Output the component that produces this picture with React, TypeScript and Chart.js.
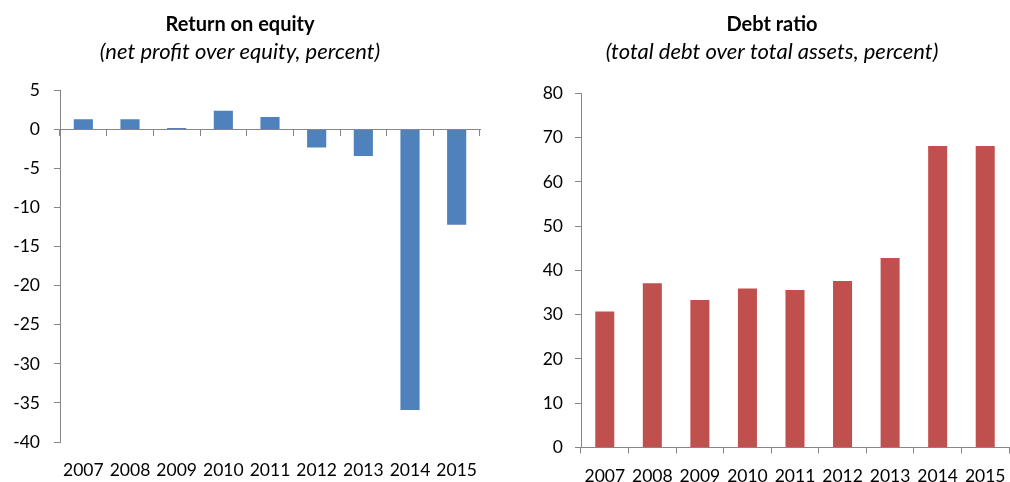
import React, { useEffect, useRef } from 'react';
import { Chart, registerables } from 'chart.js';

Chart.register(...registerables);

const years = ['2007', '2008', '2009', '2010', '2011', '2012', '2013', '2014', '2015'];
const roeValues = [1.3, 1.3, 0.2, 2.4, 1.6, -2.3, -3.4, -35.9, -12.2];
const debtValues = [30.7, 37.1, 33.3, 35.9, 35.6, 37.6, 42.8, 68.1, 68.1];

const roeTitle = 'Return on equity';
const roeSubtitle = '(net profit over equity, percent)';
const debtTitle = 'Debt ratio';
const debtSubtitle = '(total debt over total assets, percent)';

const roeMin = -40;
const roeMax = 5;
const roeStep = 5;
const debtMin = 0;
const debtMax = 80;
const debtStep = 10;

const FONT = 'Lato';
const AXIS = '#868686';
const BLUE = '#4F81BD';
const RED = '#C0504D';

function titleOpts(title: string, subtitle: string, subPadBottom: number) {
  return {
    title: {
      display: true,
      text: title,
      color: '#000',
      font: { family: FONT, size: 20, weight: 'bold' as const, lineHeight: 1.2 },
      padding: { top: 13, bottom: 2 },
    },
    subtitle: {
      display: true,
      text: subtitle,
      color: '#000',
      font: { family: FONT, size: 22, style: 'italic' as const, lineHeight: 1.2 },
      padding: { top: 0, bottom: subPadBottom },
    },
    legend: { display: false },
    tooltip: { enabled: false },
  };
}

function RoeChart() {
  const ref = useRef<HTMLCanvasElement>(null);
  useEffect(() => {
    const chart = new Chart(ref.current!, {
      type: 'bar',
      data: {
        labels: years,
        datasets: [
          {
            data: roeValues,
            backgroundColor: BLUE,
            borderWidth: 0,
            barPercentage: 0.41,
            categoryPercentage: 1,
          },
        ],
      },
      options: {
        responsive: false,
        animation: false,
        layout: { padding: { left: 0, right: 25, top: 0, bottom: 0 } },
        plugins: titleOpts(roeTitle, roeSubtitle, 25) as any,
        scales: {
          x: {
            type: 'category',
            position: 'bottom',
            offset: true,
            grid: { display: false, drawTicks: false },
            border: { display: false },
            ticks: {
              color: '#000',
              font: { family: FONT, size: 17.5 },
              padding: 18,
              maxRotation: 0,
              autoSkip: false,
            },
            afterFit: (s: any) => {
              s.height = 40;
            },
          },
          x2: {
            type: 'category',
            position: { y: 0 } as any,
            offset: true,
            grid: {
              display: true,
              drawOnChartArea: false,
              drawTicks: true,
              tickLength: 6,
              offset: true,
              color: AXIS,
            },
            border: { display: true, color: AXIS, width: 1 },
            ticks: { display: false },
          },
          y: {
            min: roeMin,
            max: roeMax,
            ticks: {
              stepSize: roeStep,
              color: '#000',
              font: { family: FONT, size: 17.5 },
              padding: 14,
            },
            grid: {
              display: true,
              drawOnChartArea: false,
              drawTicks: true,
              tickLength: 6,
              color: AXIS,
            },
            border: { display: true, color: AXIS, width: 1 },
            afterFit: (s: any) => {
              s.width = 60;
            },
          },
        },
      } as any,
    });
    return () => chart.destroy();
  }, []);
  return (
    <canvas
      ref={ref}
      width={505}
      height={482}
      style={{ position: 'absolute', left: 0, top: 0, width: 505, height: 482 }}
    />
  );
}

function DebtChart() {
  const ref = useRef<HTMLCanvasElement>(null);
  useEffect(() => {
    const chart = new Chart(ref.current!, {
      type: 'bar',
      data: {
        labels: years,
        datasets: [
          {
            data: debtValues,
            backgroundColor: RED,
            borderWidth: 0,
            barPercentage: 0.4,
            categoryPercentage: 1,
          },
        ],
      },
      options: {
        responsive: false,
        animation: false,
        layout: { padding: { left: 0, right: 16, top: 0, bottom: 0 } },
        plugins: titleOpts(debtTitle, debtSubtitle, 28) as any,
        scales: {
          x: {
            type: 'category',
            position: 'bottom',
            offset: true,
            grid: {
              display: true,
              drawOnChartArea: false,
              drawTicks: true,
              tickLength: 6,
              offset: true,
              color: AXIS,
            },
            border: { display: true, color: AXIS, width: 1 },
            ticks: {
              color: '#000',
              font: { family: FONT, size: 17.5 },
              padding: 12,
              maxRotation: 0,
              autoSkip: false,
            },
            afterFit: (s: any) => {
              s.height = 34.5;
            },
          },
          y: {
            min: debtMin,
            max: debtMax,
            ticks: {
              stepSize: debtStep,
              color: '#000',
              font: { family: FONT, size: 17.5 },
              padding: 12,
            },
            grid: {
              display: true,
              drawOnChartArea: false,
              drawTicks: true,
              tickLength: 6,
              color: AXIS,
            },
            border: { display: true, color: AXIS, width: 1 },
            afterFit: (s: any) => {
              s.width = 46;
            },
          },
        },
      } as any,
    });
    return () => chart.destroy();
  }, []);
  return (
    <canvas
      ref={ref}
      width={490}
      height={482}
      style={{ position: 'absolute', left: 535, top: 0, width: 490, height: 482 }}
    />
  );
}

export default function App() {
  return (
    <div
      style={{
        position: 'fixed',
        left: 0,
        top: 0,
        width: 1010,
        height: 482,
        overflow: 'hidden',
        background: '#fff',
      }}
    >
      <RoeChart />
      <DebtChart />
    </div>
  );
}
